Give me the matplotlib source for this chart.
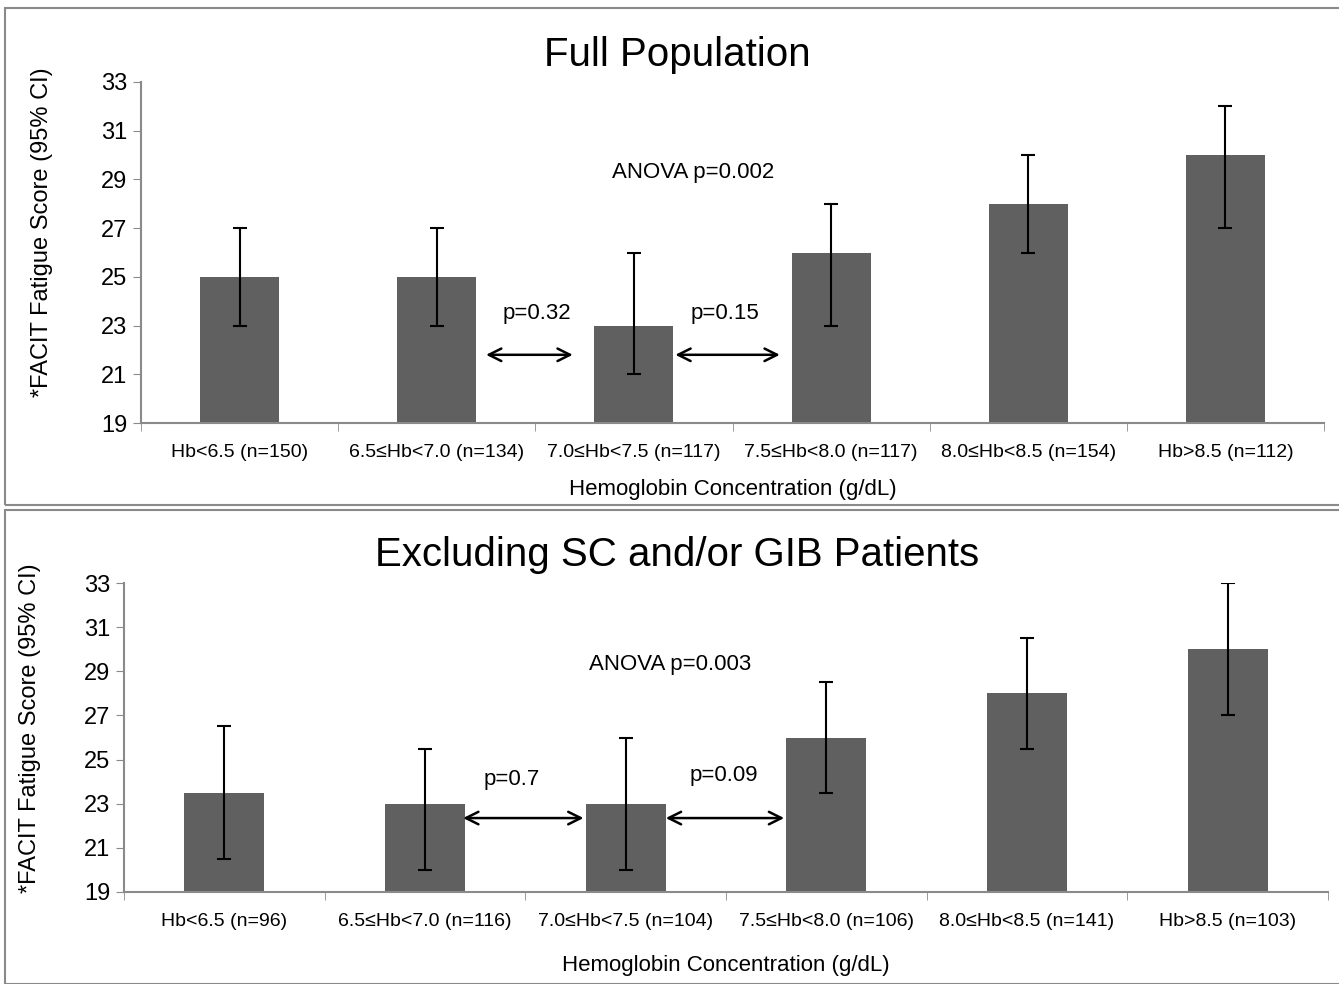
import matplotlib.pyplot as plt
from matplotlib.patches import Rectangle
import numpy as np

plt.rcParams['font.family'] = ['Liberation Sans', 'DejaVu Sans']

# data
labels_full = ['Hb<6.5 (n=150)', '6.5≤Hb<7.0 (n=134)', '7.0≤Hb<7.5 (n=117)',
               '7.5≤Hb<8.0 (n=117)', '8.0≤Hb<8.5 (n=154)', 'Hb>8.5 (n=112)']
mean_full = [25, 25, 23, 26, 28, 30]
lo_full = [23, 23, 21, 23, 26, 27]
hi_full = [27, 27, 26, 28, 30, 32]

labels_excl = ['Hb<6.5 (n=96)', '6.5≤Hb<7.0 (n=116)', '7.0≤Hb<7.5 (n=104)',
               '7.5≤Hb<8.0 (n=106)', '8.0≤Hb<8.5 (n=141)', 'Hb>8.5 (n=103)']
mean_excl = [23.5, 23, 23, 26, 28, 30]
lo_excl = [20.5, 20, 20, 23.5, 25.5, 27]
hi_excl = [26.5, 25.5, 26, 28.5, 30.5, 33]

fig = plt.figure(figsize=(13.39, 9.84), dpi=100)

# panel frames
for y0, h in [(1 - 505 / 984, (505 - 8) / 984), (0.0, (984 - 510) / 984)]:
    fig.patches.append(Rectangle((5 / 1339, y0), 1.2, h, transform=fig.transFigure,
                                 fill=False, edgecolor='#8a8a8a', lw=1.5))


def panel(rect, labels, mean, lo, hi, title, title_y, ylab_xy, xlab_y,
          anova_xy, anova_txt, arrows, ptexts):
    ax = fig.add_axes(rect)
    x = np.arange(len(labels))
    mean = np.array(mean)
    err = [mean - np.array(lo), np.array(hi) - mean]
    ax.bar(x, mean - 19, bottom=19, width=0.4, color='#606060', zorder=2)
    ax.errorbar(x, mean, yerr=err, fmt='none', ecolor='black', elinewidth=1.5,
                capsize=5, capthick=1.5, zorder=3)
    ax.set_xlim(-0.5, 5.5)
    ax.set_ylim(19, 33)
    ax.set_yticks(range(19, 34, 2))
    ax.set_xticks(x)
    ax.set_xticklabels(labels, fontsize=14)
    ax.set_xticks(np.arange(-0.5, 6, 1), minor=True)
    ax.tick_params(axis='x', which='major', length=0, pad=15)
    ax.tick_params(axis='x', which='minor', length=6, color='#8a8a8a', direction='out')
    ax.tick_params(axis='y', labelsize=17, length=6, color='#8a8a8a', pad=4)
    for s in ['top', 'right']:
        ax.spines[s].set_visible(False)
    for s in ['left', 'bottom']:
        ax.spines[s].set_color('#8a8a8a')
        ax.spines[s].set_linewidth(1.5)
    fig.text(0.5056, title_y, title, ha='center', va='center', fontsize=29)
    fig.text(ylab_xy[0], ylab_xy[1], '*FACIT Fatigue Score (95% CI)',
             rotation=90, ha='center', va='center', fontsize=17)
    fig.text(rect[0] + rect[2] / 2, xlab_y, 'Hemoglobin Concentration (g/dL)',
             ha='center', va='center', fontsize=16)
    ax.text(anova_xy[0], anova_xy[1], anova_txt, ha='center', va='center', fontsize=16)
    for (x0, x1, yy) in arrows:
        ax.annotate('', xy=(x1, yy), xytext=(x0, yy),
                    arrowprops=dict(arrowstyle='<->,head_length=0.9,head_width=0.45',
                                    color='black', lw=1.8, shrinkA=0, shrinkB=0))
    for (tx, ty, t) in ptexts:
        ax.text(tx, ty, t, ha='center', va='center', fontsize=16)
    return ax


panel([141 / 1339, 1 - 423 / 984, (1324 - 141) / 1339, (423 - 82) / 984],
      labels_full, mean_full, lo_full, hi_full, 'Full Population', 1 - 55 / 984,
      (42 / 1339, 1 - 232 / 984), 1 - 489 / 984, (2.3, 29.3), 'ANOVA p=0.002',
      [(1.25, 1.69, 21.8), (2.21, 2.74, 21.8)],
      [(1.51, 23.5, 'p=0.32'), (2.46, 23.5, 'p=0.15')])

panel([124 / 1339, 1 - 892 / 984, (1328 - 124) / 1339, (892 - 583) / 984],
      labels_excl, mean_excl, lo_excl, hi_excl, 'Excluding SC and/or GIB Patients',
      1 - 555 / 984, (30 / 1339, 1 - 728 / 984), 1 - 965 / 984, (2.22, 29.33),
      'ANOVA p=0.003',
      [(1.19, 1.79, 22.35), (2.2, 2.79, 22.35)],
      [(1.43, 24.1, 'p=0.7'), (2.49, 24.3, 'p=0.09')])

fig.savefig('out.png', dpi=100)
